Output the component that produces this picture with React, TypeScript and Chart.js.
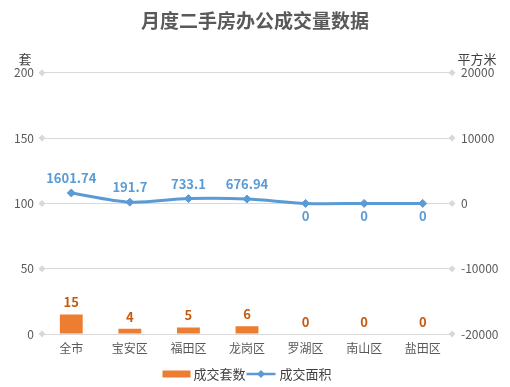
import React, { useEffect, useRef } from "react";
import { Chart, registerables } from "chart.js";

Chart.register(...registerables);

const FONT = '"Noto Sans CJK SC", "Noto Sans", sans-serif';

const chartTitle = "月度二手房办公成交量数据";
const categories = ["全市", "宝安区", "福田区", "龙岗区", "罗湖区", "南山区", "盐田区"];
const seriesNames = ["成交套数", "成交面积"];
const dealCounts = [15, 4, 5, 6, 0, 0, 0];
const dealAreas = [1601.74, 191.7, 733.1, 676.94, 0, 0, 0];
const leftTicks = [0, 50, 100, 150, 200];
const rightTicks = [-20000, -10000, 0, 10000, 20000];
const leftAxisTitle = "套";
const rightAxisTitle = "平方米";

const BAR_COLOR = "#ED7D31";
const BAR_LABEL_COLOR = "#C55A11";
const LINE_COLOR = "#5B9BD5";
const GRID_COLOR = "#D9D9D9";
const TICK_COLOR = "#595959";
const TEXT_COLOR = "#404040";

function diamond(ctx: CanvasRenderingContext2D, x: number, y: number, r: number) {
  ctx.beginPath();
  ctx.moveTo(x - r, y);
  ctx.lineTo(x, y - r);
  ctx.lineTo(x + r, y);
  ctx.lineTo(x, y + r);
  ctx.closePath();
  ctx.fill();
}

const extrasPlugin = {
  id: "extras",
  afterDraw(chart: any) {
    const ctx: CanvasRenderingContext2D = chart.ctx;
    const area = chart.chartArea;
    const yL = chart.scales.y;
    ctx.save();

    // axis end diamonds
    ctx.fillStyle = GRID_COLOR;
    leftTicks.forEach((v) => {
      const y = yL.getPixelForValue(v);
      diamond(ctx, area.left, y, 3.5);
      diamond(ctx, area.right, y, 3.5);
    });

    // axis titles
    ctx.fillStyle = TEXT_COLOR;
    ctx.font = `13px ${FONT}`;
    ctx.textAlign = "center";
    ctx.textBaseline = "middle";
    ctx.fillText(leftAxisTitle, 25, 59);
    ctx.fillText(rightAxisTitle, 477, 59);

    // bar labels
    const barMeta = chart.getDatasetMeta(0);
    ctx.font = `bold 13px ${FONT}`;
    ctx.fillStyle = BAR_LABEL_COLOR;
    barMeta.data.forEach((el: any, i: number) => {
      ctx.fillText(String(dealCounts[i]), el.x, el.y - 12);
    });

    // line labels
    const lineMeta = chart.getDatasetMeta(1);
    ctx.fillStyle = LINE_COLOR;
    lineMeta.data.forEach((el: any, i: number) => {
      const v = dealAreas[i];
      const y = v === 0 ? el.y + 13 : el.y - 15;
      ctx.fillText(String(v), el.x, y);
    });

    // legend
    ctx.font = `13px ${FONT}`;
    const t1 = ctx.measureText(seriesNames[0]).width;
    const t2 = ctx.measureText(seriesNames[1]).width;
    const rectW = 28, lineW = 29;
    const total = rectW + 3 + t1 + 1 + lineW + 4 + t2;
    let x = (area.left + area.right) / 2 - total / 2;
    const ly = 374;
    ctx.fillStyle = BAR_COLOR;
    ctx.fillRect(x, ly - 3.5, rectW, 7);
    x += rectW + 3;
    ctx.fillStyle = TEXT_COLOR;
    ctx.textAlign = "left";
    ctx.fillText(seriesNames[0], x, ly);
    x += t1 + 1;
    ctx.strokeStyle = LINE_COLOR;
    ctx.lineWidth = 2.5;
    ctx.beginPath();
    ctx.moveTo(x, ly);
    ctx.lineTo(x + lineW, ly);
    ctx.stroke();
    ctx.fillStyle = LINE_COLOR;
    diamond(ctx, x + lineW / 2, ly, 4);
    x += lineW + 4;
    ctx.fillStyle = TEXT_COLOR;
    ctx.fillText(seriesNames[1], x, ly);

    ctx.restore();
  },
};

export default function App() {
  const ref = useRef<HTMLCanvasElement>(null);
  useEffect(() => {
    document.body.style.margin = "0";
    const canvas = ref.current!;
    const chart = new Chart(canvas, {
      data: {
        labels: categories,
        datasets: [
          {
            type: "bar",
            label: seriesNames[0],
            data: dealCounts,
            backgroundColor: BAR_COLOR,
            yAxisID: "y",
            barPercentage: 0.39,
            categoryPercentage: 1,
            order: 2,
          },
          {
            type: "line",
            label: seriesNames[1],
            data: dealAreas,
            borderColor: LINE_COLOR,
            backgroundColor: LINE_COLOR,
            borderWidth: 3,
            tension: 0.3,
            pointStyle: "rectRot",
            pointRadius: 4,
            pointBorderWidth: 1,
            yAxisID: "y1",
            order: 1,
          },
        ],
      } as any,
      options: {
        responsive: false,
        animation: false,
        layout: { padding: { top: 0, bottom: 0, left: 0, right: 0 } },
        plugins: {
          legend: { display: false },
          tooltip: { enabled: false },
          title: {
            display: true,
            text: chartTitle,
            color: TICK_COLOR,
            font: { family: FONT, size: 19, weight: "bold", lineHeight: 1.2 },
            padding: { top: 9, bottom: 41 },
          },
        },
        scales: {
          x: {
            grid: { display: false, drawTicks: false },
            border: { display: false },
            ticks: { color: TICK_COLOR, font: { family: FONT, size: 12 }, padding: 7, maxRotation: 0 },
            afterFit: (s: any) => { s.height = 53; },
          },
          y: {
            position: "left",
            min: leftTicks[0],
            max: leftTicks[leftTicks.length - 1],
            grid: { color: GRID_COLOR, drawTicks: false },
            border: { display: false },
            ticks: {
              stepSize: leftTicks[1] - leftTicks[0],
              color: TICK_COLOR,
              font: { family: FONT, size: 12 },
              padding: 8,
              callback: (v: any) => String(v),
            },
            afterFit: (s: any) => { s.width = 42; },
          },
          y1: {
            position: "right",
            min: rightTicks[0],
            max: rightTicks[rightTicks.length - 1],
            grid: { drawOnChartArea: false, drawTicks: false },
            border: { display: false },
            ticks: {
              stepSize: rightTicks[1] - rightTicks[0],
              color: TICK_COLOR,
              font: { family: FONT, size: 12 },
              padding: 9,
              callback: (v: any) => String(v),
            },
            afterFit: (s: any) => { s.width = 58; },
          },
        },
      } as any,
      plugins: [extrasPlugin],
    });
    return () => chart.destroy();
  }, []);
  return (
    <div style={{ width: 510, height: 387 }}>
      <canvas ref={ref} width={510} height={387} style={{ display: "block" }} />
    </div>
  );
}
